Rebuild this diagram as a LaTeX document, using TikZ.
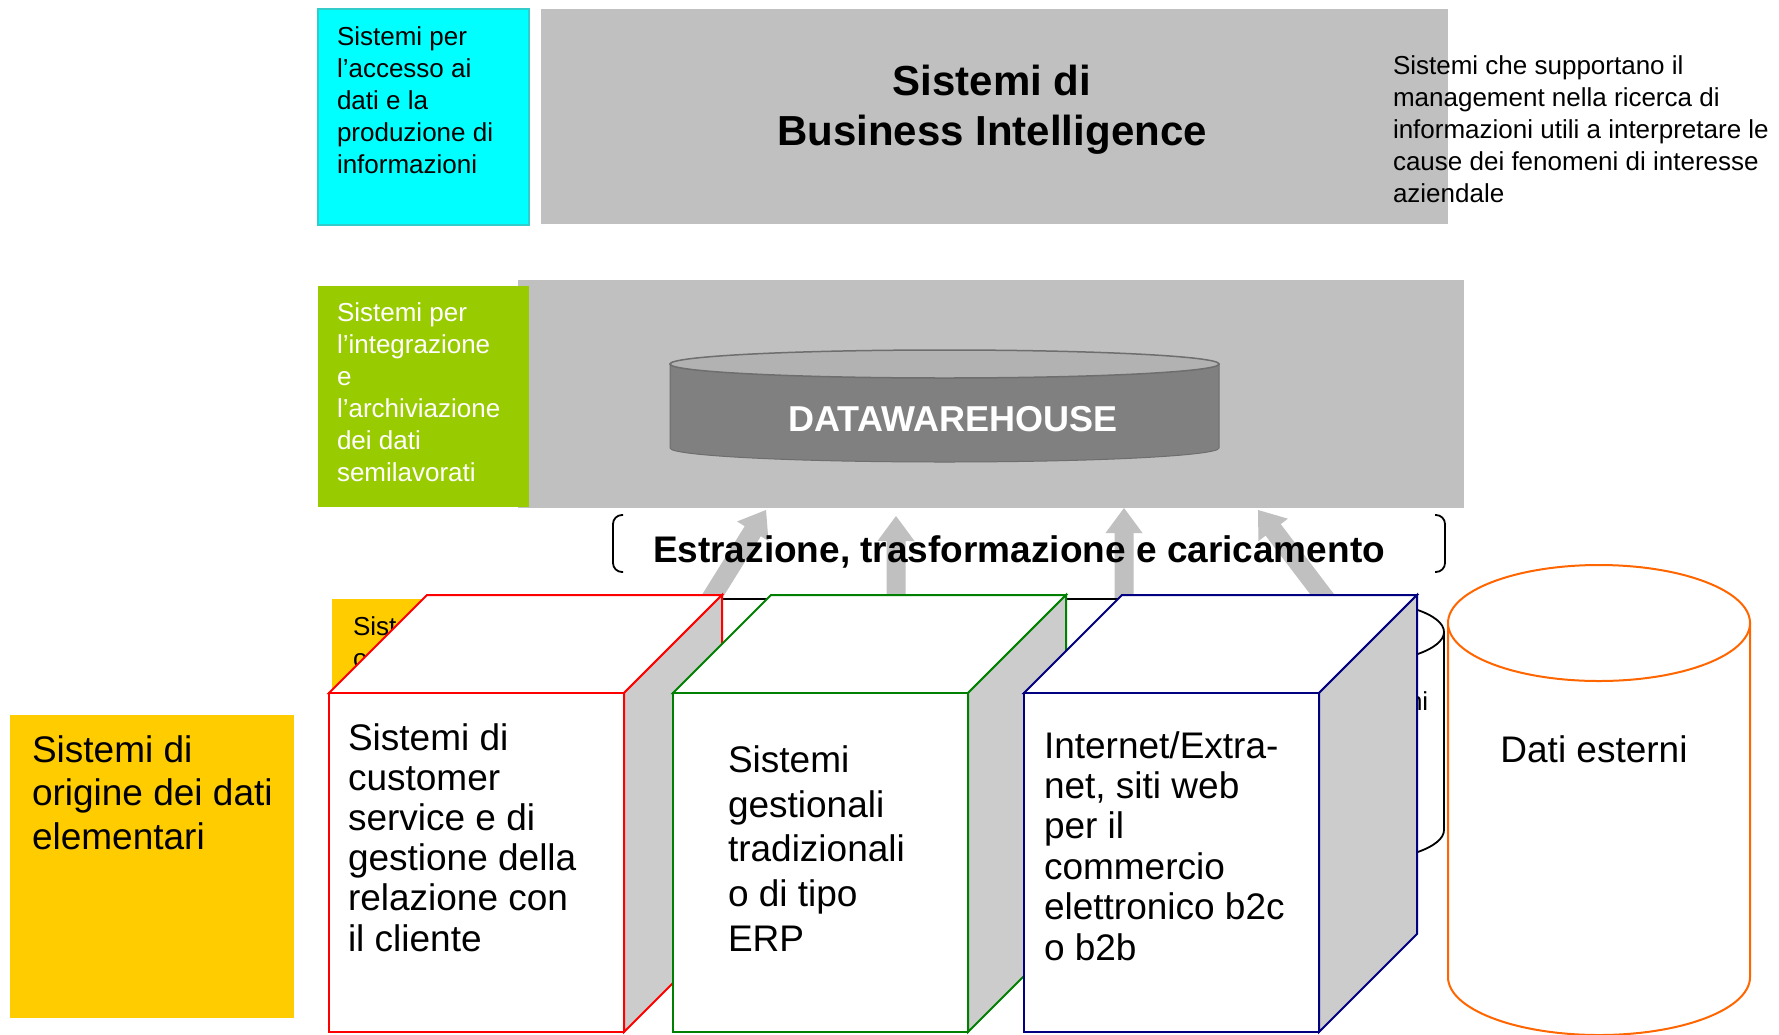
\documentclass[tikz,border=0pt]{standalone}
\usepackage{fontspec}
\setmainfont{Liberation Sans}
\usetikzlibrary{calc}
\definecolor{cyanbox}{HTML}{00FFFF}
\definecolor{cyanedge}{HTML}{33CCCC}
\definecolor{panel}{HTML}{C0C0C0}
\definecolor{limebox}{HTML}{99CC00}
\definecolor{goldbox}{HTML}{FFCC00}
\definecolor{sideface}{HTML}{CCCCCC}
\definecolor{cubered}{HTML}{FF0000}
\definecolor{cubegreen}{HTML}{008000}
\definecolor{cubenavy}{HTML}{000080}
\definecolor{orangeedge}{HTML}{FF6600}
\definecolor{dwbody}{HTML}{808080}
\definecolor{dwtop}{HTML}{B2B2B2}
\definecolor{dwedge}{HTML}{6E6E6E}
\newcommand{\fsz}[2]{\fontsize{#1}{#2}\selectfont}
% cube: x0, y0 (front top), x1, y1 (front bottom), edge colour
\newcommand{\drawcube}[5]{%
  \filldraw[draw=#5, line width=2pt, fill=white, line join=miter] (#1,#2) -- (#1+98,#2-98) -- (#3+98,#2-98) -- (#3,#2) -- cycle;
  \filldraw[draw=#5, line width=2pt, fill=sideface, line join=miter] (#3,#2) -- (#3+98,#2-98) -- (#3+98,#4-98) -- (#3,#4) -- cycle;
  \filldraw[draw=#5, line width=2pt, fill=white] (#1,#2) rectangle (#3,#4);
}
% block arrow from tail (#1) to tip (#2)
\newcommand{\blockarrow}[2]{%
  \fill[panel] ($(#1)!9.5pt!90:(#2)$) -- ($($(#2)!25pt!(#1)$)!9.5pt!-90:(#1)$)
    -- ($($(#2)!25pt!(#1)$)!18.5pt!-90:(#1)$) -- (#2)
    -- ($($(#2)!25pt!(#1)$)!18.5pt!90:(#1)$) -- ($($(#2)!25pt!(#1)$)!9.5pt!90:(#1)$)
    -- ($(#1)!9.5pt!-90:(#2)$) -- cycle;
}
\begin{document}
\begin{tikzpicture}[x=1pt,y=-1pt,
  % multi-line nodes: anchored at the baseline of their LAST line
  txt/.style={inner sep=0pt, outer sep=0pt, align=left, anchor=base west},
  smalltxt/.style={txt, font={\fsz{26}{32}}},
  bigtxt/.style={txt, font={\fsz{37}{40.2}}},
  bracket/.style={draw=black, line width=1.8pt, rounded corners=9pt}
]
\useasboundingbox (0,0) rectangle (1779,1034);
\fill[white] (0,0) rectangle (1779,1034);

% ---------- top row ----------
\filldraw[fill=cyanbox, draw=cyanedge, line width=1.5pt] (318,9) rectangle (529,225);
\node[smalltxt] (cyantxt) at (337,173) {Sistemi per\\l’accesso ai\\dati e la\\produzione di\\informazioni};
\fill[panel] (541,9) rectangle (1448,224);
\node[inner sep=0pt, align=center, anchor=base, font={\fsz{42}{50}\bfseries}] (bititle) at (992,145) {Sistemi di\\Business Intelligence};
\node[smalltxt] (bidesc) at (1393,202) {Sistemi che supportano il\\management nella ricerca di\\informazioni utili a interpretare le\\cause dei fenomeni di interesse\\aziendale};

% ---------- middle row ----------
\fill[panel] (518,280) rectangle (1464,508);
\fill[limebox] (318,286) rectangle (529,507);
\node[smalltxt, text=white] (limetxt) at (337,481) {Sistemi per\\l’integrazione\\e\\l’archiviazione\\dei dati\\semilavorati};
\filldraw[fill=dwbody, draw=dwedge, line width=1pt] (670,364) -- (670,448) arc[start angle=180, end angle=0, x radius=274.5, y radius=14] -- (1219,364) -- cycle;
\filldraw[fill=dwtop, draw=dwedge, line width=1.5pt] (944.5,364) ellipse[x radius=274.5, y radius=14];
\node[inner sep=0pt, anchor=base, text=white, font={\fsz{36}{40}\bfseries}] (dw) at (953,431) {DATAWAREHOUSE};

% ---------- arrows ----------
\coordinate (a1s) at (685,640);  \coordinate (a1t) at (766,510);
\coordinate (a2s) at (896,640);  \coordinate (a2t) at (896,516);
\coordinate (a3s) at (1124,640); \coordinate (a3t) at (1124,508);
\coordinate (a4s) at (1357,640); \coordinate (a4t) at (1258,510);
\blockarrow{a1s}{a1t}
\blockarrow{a2s}{a2t}
\blockarrow{a3s}{a3t}
\blockarrow{a4s}{a4t}

% ---------- hidden layer behind the cubes ----------
\fill[goldbox] (332,599) rectangle (600,900);
\node[smalltxt] (hid1) at (353,667) {Sist\\o};
\filldraw[fill=white, draw=black, line width=1.8pt] (690,599) rectangle (1300,860);
\filldraw[fill=white, draw=black, line width=1.8pt] (1252,632) -- (1252,830) arc[start angle=180, end angle=0, x radius=96, y radius=32] -- (1444,632) -- cycle;
\filldraw[fill=white, draw=black, line width=1.8pt] (1348,632) ellipse[x radius=96, y radius=32];
\node[smalltxt] (hid2) at (1408,710) {ni};

% ---------- ETL label ----------
\node[txt, font={\fsz{37}{44}\bfseries}] (etl) at (653,562) {Estrazione, trasformazione e caricamento};
\draw[bracket] (623,515) -- (613,515) -- (613,572) -- (623,572);
\draw[bracket] (1435,515) -- (1445,515) -- (1445,572) -- (1435,572);

% ---------- left label ----------
\fill[goldbox] (10,715) rectangle (294,1018);
\node[txt, font={\fsz{37}{43.5}}] (origin) at (32,849) {Sistemi di\\origine dei dati\\elementari};

% ---------- cubes ----------
\drawcube{329}{693}{624}{1032}{cubered}
\node[bigtxt] (crm) at (348,951) {Sistemi di\\customer\\service e di\\gestione della\\relazione con\\il cliente};
\drawcube{673}{693}{968}{1032}{cubegreen}
\node[txt, font={\fsz{37}{44.8}}] (erp) at (728,951.5) {Sistemi\\gestionali\\tradizionali\\o di tipo\\ERP};
\drawcube{1024}{693}{1319}{1032}{cubenavy}
\node[txt, font={\fsz{37}{40.4}}] (web) at (1044,960) {Internet/Extra-\\net, siti web\\per il\\commercio\\elettronico b2c\\o b2b};

% ---------- external data cylinder ----------
\filldraw[fill=white, draw=orangeedge, line width=2pt] (1448,623) -- (1448,977) arc[start angle=180, end angle=0, x radius=151, y radius=58] -- (1750,623) -- cycle;
\filldraw[fill=white, draw=orangeedge, line width=2pt] (1599,623) ellipse[x radius=151, y radius=58];
\node[inner sep=0pt, anchor=base, font={\fsz{37}{44}}] (ext) at (1594,762) {Dati esterni};
\end{tikzpicture}
\end{document}
